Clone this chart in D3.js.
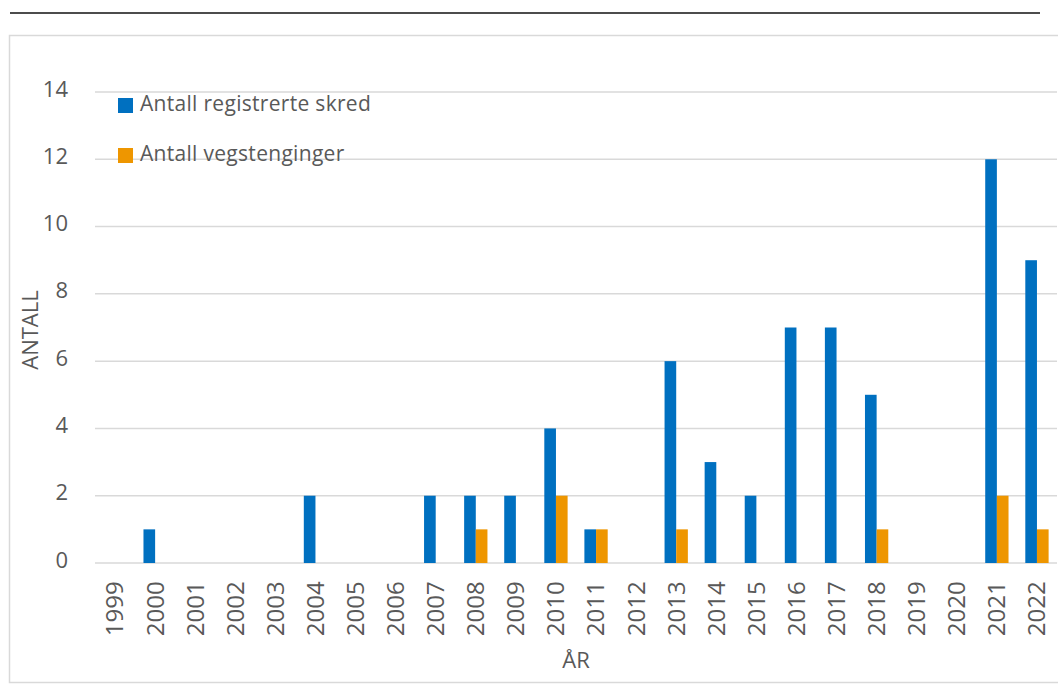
<!DOCTYPE html>
<html lang="no">
<head>
  <meta charset="UTF-8">
  <title>Skred og vegstenginger</title>
  <script src="https://d3js.org/d3.v7.min.js"></script>
  <style>
    body { margin: 0; background: #fff; }
    svg text { font-family: "Open Sans", sans-serif; fill: #595959; }
  </style>
</head>
<body>
  <div id="chart"></div>
  <script>
    const years = ["1999","2000","2001","2002","2003","2004","2005","2006","2007","2008","2009","2010",
                   "2011","2012","2013","2014","2015","2016","2017","2018","2019","2020","2021","2022"];
    const skred = [0,1,0,0,0,2,0,0,2,2,2,4,1,0,6,3,2,7,7,5,0,0,12,9];
    const stenginger = [0,0,0,0,0,0,0,0,0,1,0,2,1,0,1,0,0,0,0,1,0,0,2,1];
    const seriesNames = ["Antall registrerte skred", "Antall vegstenginger"];
    const yTicks = [0,2,4,6,8,10,12,14];

    const W = 1058, H = 684;
    const svg = d3.select("#chart").append("svg")
      .attr("width", W).attr("height", H);

    // top rule and frame
    svg.append("line")
      .attr("x1", 10).attr("x2", 1040).attr("y1", 13).attr("y2", 13)
      .attr("stroke", "#111").attr("stroke-width", 1.5);
    svg.append("rect")
      .attr("x", 9.5).attr("y", 35.5).attr("width", 1060).attr("height", 647)
      .attr("fill", "none").attr("stroke", "#d9d9d9").attr("stroke-width", 1.5);

    const x = d3.scaleBand().domain(years).range([95, 1057]).paddingInner(0).paddingOuter(0);
    const y = d3.scaleLinear().domain([0, 14]).range([563, 92]);
    const sub = d3.scaleBand().domain([0, 1]).range([0, x.bandwidth()]).paddingInner(0).paddingOuter(0.72);
    const color = ["#0070c0", "#ee9600"];

    // gridlines
    svg.append("g").selectAll("line").data(yTicks).join("line")
      .attr("x1", 95).attr("x2", 1057)
      .attr("y1", d => y(d)).attr("y2", d => y(d))
      .attr("stroke", "#d9d9d9").attr("stroke-width", 1.5);

    // y axis labels
    svg.append("g").attr("transform", "translate(68,-3)")
      .call(d3.axisLeft(y).tickValues(yTicks).tickSize(0).tickPadding(0))
      .call(g => g.select(".domain").remove())
      .selectAll("text").style("font-size", "22px").attr("fill", "#595959");

    // x axis labels
    svg.append("g").attr("transform", "translate(0,579)")
      .call(d3.axisBottom(x).tickSize(0).tickPadding(0))
      .call(g => g.select(".domain").remove())
      .selectAll("text")
      .style("font-size", "24px").attr("fill", "#595959")
      .attr("transform", "rotate(-90)")
      .attr("dy", "0.35em").attr("dx", "-0.1em")
      .attr("x", 0).attr("y", 0)
      .style("text-anchor", "end");

    // bars
    [skred, stenginger].forEach((vals, s) => {
      svg.append("g").selectAll("rect").data(years).join("rect")
        .attr("x", (d, i) => x(d) + sub(s))
        .attr("y", (d, i) => y(vals[i]))
        .attr("width", sub.bandwidth())
        .attr("height", (d, i) => y(0) - y(vals[i]))
        .attr("fill", color[s]);
    });

    // legend
    const legend = svg.append("g").attr("transform", "translate(118,98)");
    seriesNames.forEach((name, i) => {
      legend.append("rect").attr("x", 0).attr("y", i * 50)
        .attr("width", 15).attr("height", 15).attr("fill", color[i]);
      legend.append("text").attr("x", 22).attr("y", i * 50 + 13)
        .style("font-size", "21px").style("letter-spacing", "0.3px").text(name);
    });

    // axis titles
    svg.append("text")
      .attr("transform", "translate(38,330) rotate(-90)")
      .attr("text-anchor", "middle")
      .style("font-size", "22px").text("ANTALL");
    svg.append("text")
      .attr("x", 576).attr("y", 668)
      .attr("text-anchor", "middle")
      .style("font-size", "22px").text("ÅR");
  </script>
</body>
</html>
